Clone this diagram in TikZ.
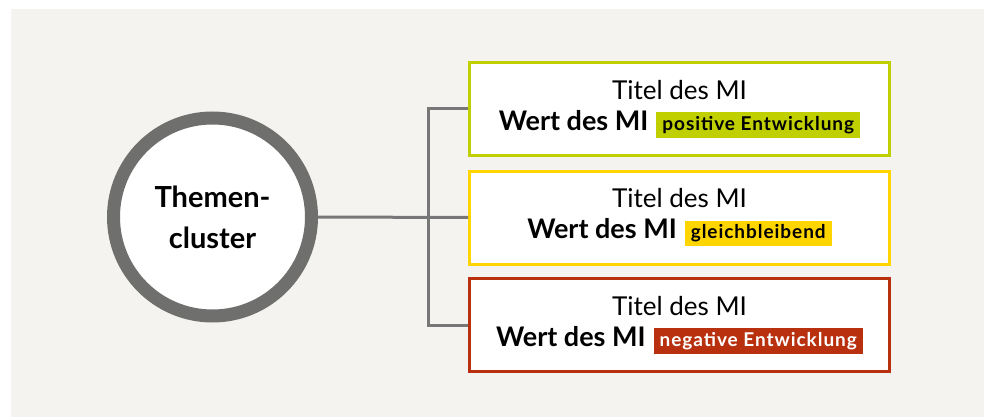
\documentclass[tikz,border=0pt]{standalone}
\usepackage{fontspec}
\setmainfont{Lato}
\usetikzlibrary{positioning}

\definecolor{bgcol}{HTML}{F4F3EF}
\definecolor{ringgrey}{HTML}{6F6F6E}
\definecolor{linegrey}{HTML}{777777}
\definecolor{posgreen}{HTML}{BFCF00}
\definecolor{constyellow}{HTML}{FFD500}
\definecolor{negred}{HTML}{B8300E}

% coloured label behind the trend text
\newcommand{\trendbadge}[3]{{\fontsize{19}{20}\selectfont\bfseries
    \addfontfeature{LetterSpace=5}%
    \setlength{\fboxsep}{4pt}%
    \colorbox{#1}{\rule[-1pt]{0pt}{15pt}\hspace{2pt}\textcolor{#2}{#3}\hspace{2pt}}}}

\tikzset{
    mibox/.style={draw=#1, line width=3pt, fill=white, inner sep=0pt,
        minimum width=420pt, minimum height=93pt, align=center,
        font=\fontsize{26}{31}\selectfont},
    link/.style={draw=linegrey, line width=3pt}
}

\begin{document}
\begin{tikzpicture}[x=1pt, y=-1pt]
        % background
        \fill[white] (0,0) rectangle (984,417);
        \fill[bgcol] (11,9) rectangle (984,417);
        \useasboundingbox (0,0) rectangle (984,417);

        % define cluster
        \coordinate (Cluster_C) at (212.5,217);
        \node (cluster) at (Cluster_C) [circle, draw=ringgrey, line width=13pt,
            fill=white, inner sep=0pt, minimum size=198pt, align=center,
            font=\fontsize{29}{41}\selectfont\bfseries] {Themen-\\cluster};

        % define MI boxes
        \node (mi_pos) at (679.5,109) [mibox=posgreen]
            {Titel des MI\\{\fontsize{27}{31}\selectfont\bfseries Wert des MI}\hspace{8pt}\trendbadge{posgreen}{black}{positive Entwicklung}};
        \node (mi_const) at (679.5,217.5) [mibox=constyellow]
            {Titel des MI\\{\fontsize{27}{31}\selectfont\bfseries Wert des MI}\hspace{8pt}\trendbadge{constyellow}{black}{gleichbleibend}};
        \node (mi_neg) at (679.5,325) [mibox=negred]
            {Titel des MI\\{\fontsize{27}{31}\selectfont\bfseries Wert des MI}\hspace{8pt}\trendbadge{negred}{white}{negative Entwicklung}};

        % connectors
        \coordinate (fork) at (428,217);
        \draw[link] (cluster.east) -- (mi_const.west);
        \draw[link] (mi_pos.west) -| (fork) |- (mi_neg.west);
\end{tikzpicture}
\end{document}
